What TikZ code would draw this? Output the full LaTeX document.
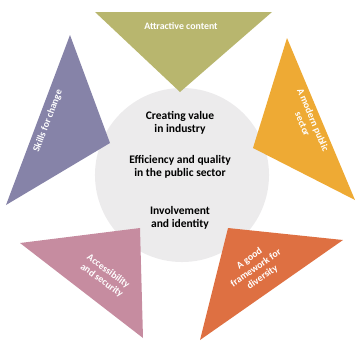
\documentclass[tikz,border=0pt]{standalone}
\usepackage{fontspec}
\setmainfont{Carlito}
\definecolor{hubgray}{RGB}{236,235,236}
\definecolor{olive}{RGB}{184,182,110}
\definecolor{amber}{RGB}{238,170,52}
\definecolor{lilac}{RGB}{134,131,168}
\definecolor{rose}{RGB}{198,140,160}
\definecolor{rust}{RGB}{222,112,66}
\begin{document}
\begin{tikzpicture}[x=0.025cm, y=-0.025cm,
			label/.style={text=white, font=\bfseries\fontsize{7}{8}\selectfont, align=center, inner sep=0pt},
			hub/.style={font=\bfseries\fontsize{8.2}{9.6}\selectfont, align=center, inner sep=0pt}]

		\useasboundingbox (0,0) rectangle (357,345);
		\fill[hubgray] (182,175) circle (2.175cm);

		% the five triangles
		\fill[olive] (95,12) -- (272,12) -- (180,92) -- cycle;
		\fill[amber] (287,38) -- (355,200) -- (253,148) -- cycle;
		\fill[lilac] (70,35) -- (6,205) -- (110,143) -- cycle;
		\fill[rose] (20,243) -- (143,338) -- (140,228) -- cycle;
		\fill[rust] (200,340) -- (343,240) -- (228,228) -- cycle;

		\node[label] (content) at (181,26) {Attractive content};
		\node[label, rotate=-67] (public) at (308,122) {A modern public\\sector};
		\node[label, rotate=69] (skills) at (48,121) {Skills for change};
		\node[label, rotate=-36] (access) at (105,276) {Accessibility\\and security};
		\node[label, rotate=35] (framework) at (256,268) {A good\\framework for\\diversity};

		\node[hub] (value) at (180,123) {Creating value\\in industry};
		\node[hub] (quality) at (180,167) {Efficiency and quality\\in the public sector};
		\node[hub] (identity) at (180,218) {Involvement\\and identity};
	\end{tikzpicture}
\end{document}
